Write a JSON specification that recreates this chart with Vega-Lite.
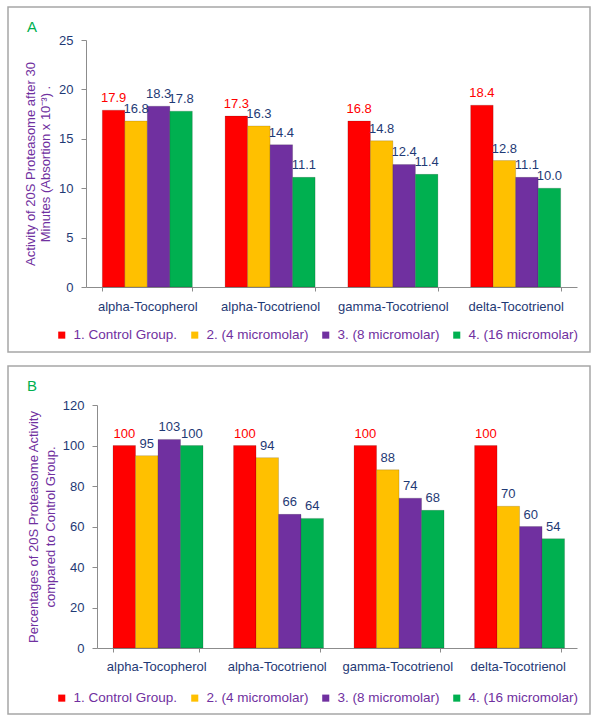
{
  "$schema": "https://vega.github.io/schema/vega-lite/v6.json",
  "padding": {"left": 7, "top": 6, "right": 0, "bottom": 0},
  "datasets": {
    "d": [
      {"compound": "alpha-Tocopherol", "group": "1. Control Group.", "activity": 17.9, "percent": 100},
      {"compound": "alpha-Tocopherol", "group": "2. (4 micromolar)", "activity": 16.8, "percent": 95},
      {"compound": "alpha-Tocopherol", "group": "3. (8 micromolar)", "activity": 18.3, "percent": 103},
      {"compound": "alpha-Tocopherol", "group": "4. (16 micromolar)", "activity": 17.8, "percent": 100},
      {"compound": "alpha-Tocotrienol", "group": "1. Control Group.", "activity": 17.3, "percent": 100},
      {"compound": "alpha-Tocotrienol", "group": "2. (4 micromolar)", "activity": 16.3, "percent": 94},
      {"compound": "alpha-Tocotrienol", "group": "3. (8 micromolar)", "activity": 14.4, "percent": 66},
      {"compound": "alpha-Tocotrienol", "group": "4. (16 micromolar)", "activity": 11.1, "percent": 64},
      {"compound": "gamma-Tocotrienol", "group": "1. Control Group.", "activity": 16.8, "percent": 100},
      {"compound": "gamma-Tocotrienol", "group": "2. (4 micromolar)", "activity": 14.8, "percent": 88},
      {"compound": "gamma-Tocotrienol", "group": "3. (8 micromolar)", "activity": 12.4, "percent": 74},
      {"compound": "gamma-Tocotrienol", "group": "4. (16 micromolar)", "activity": 11.4, "percent": 68},
      {"compound": "delta-Tocotrienol", "group": "1. Control Group.", "activity": 18.4, "percent": 100},
      {"compound": "delta-Tocotrienol", "group": "2. (4 micromolar)", "activity": 12.8, "percent": 70},
      {"compound": "delta-Tocotrienol", "group": "3. (8 micromolar)", "activity": 11.1, "percent": 60},
      {"compound": "delta-Tocotrienol", "group": "4. (16 micromolar)", "activity": 10.0, "percent": 54}
    ]
  },
  "config": {
    "font": "Liberation Sans",
    "view": {"stroke": "#A6A6A6", "strokeWidth": 1.5},
    "axis": {
      "grid": false,
      "domainColor": "#8C8C8C",
      "tickColor": "#8C8C8C",
      "labelColor": "#1F3A75",
      "labelFontSize": 13,
      "labelFont": "Liberation Sans",
      "titleFont": "Liberation Sans",
      "titleColor": "#7030A0",
      "titleFontWeight": "normal",
      "titleFontSize": 13
    },
    "title": {
      "anchor": "start",
      "frame": "group",
      "color": "#00B050",
      "fontSize": 15,
      "fontWeight": "normal",
      "font": "Liberation Sans",
      "offset": 0,
      "baseline": "alphabetic",
      "dx": 19,
      "dy": 32
    },
    "concat": {"spacing": 12}
  },
  "resolve": {"legend": {"color": "independent"}},
  "vconcat": [
    {
      "width": 582,
      "height": 345,
      "title": "A",
      "data": {"name": "d"},
      "encoding": {
        "x": {
          "field": "compound", "type": "nominal", "sort": null,
          "scale": {"range": [78, 569], "paddingInner": 0.267, "paddingOuter": 0.133},
          "axis": {"title": null, "offset": -65, "labelAngle": 0, "tickBand": "extent", "tickSize": 4, "labelPadding": 9}
        },
        "xOffset": {"field": "group", "type": "nominal", "sort": null},
        "y": {
          "field": "activity", "type": "quantitative",
          "scale": {"domain": [0, 25], "range": [280, 33], "nice": false},
          "axis": {
            "title": ["Activity of 20S Proteasome after 30", "Minutes (Absortion x 10⁻³) ."],
            "offset": -78, "values": [0, 5, 10, 15, 20, 25], "tickSize": 5, "labelPadding": 8,
            "titlePadding": 6, "titleLineHeight": 15
          }
        }
      },
      "layer": [
        {
          "mark": {"type": "bar", "stroke": "#000000", "strokeOpacity": 0.15, "strokeWidth": 1},
          "encoding": {
            "color": {
              "field": "group", "type": "nominal", "sort": null,
              "scale": {
                "domain": ["1. Control Group.", "2. (4 micromolar)", "3. (8 micromolar)", "4. (16 micromolar)"],
                "range": ["#FF0000", "#FFC000", "#7030A0", "#00B050"]
              },
              "legend": {
                "title": null, "orient": "none", "legendX": 47, "legendY": 321,
                "direction": "horizontal", "columns": 4, "symbolType": "square", "symbolSize": 50,
                "labelFontSize": 13.5, "labelColor": "#7030A0", "labelFont": "Liberation Sans",
                "columnPadding": 10, "labelOffset": 5, "padding": 0, "symbolStrokeWidth": 0
              }
            }
          }
        },
        {
          "mark": {"type": "text", "baseline": "bottom", "dy": -5, "fontSize": 13},
          "encoding": {
            "text": {"field": "activity", "type": "quantitative", "format": ".1f"},
            "color": {"condition": {"test": "datum.group === '1. Control Group.'", "value": "#FF0000"}, "value": "#1F3A75"}
          }
        }
      ]
    },
    {
      "width": 582,
      "height": 348,
      "title": "B",
      "data": {"name": "d"},
      "encoding": {
        "x": {
          "field": "compound", "type": "nominal", "sort": null,
          "scale": {"range": [89, 569], "paddingInner": 0.283, "paddingOuter": 0.133},
          "axis": {"title": null, "offset": -66, "labelAngle": 0, "tickBand": "extent", "tickSize": 4, "labelPadding": 8}
        },
        "xOffset": {"field": "group", "type": "nominal", "sort": null},
        "y": {
          "field": "percent", "type": "quantitative",
          "scale": {"domain": [0, 120], "range": [282, 39], "nice": false},
          "axis": {
            "title": ["Percentages of 20S Proteasome  Activity", "compared to Control Group."],
            "offset": -89, "values": [0, 20, 40, 60, 80, 100, 120], "tickSize": 5, "labelPadding": 8,
            "titlePadding": 5, "titleLineHeight": 17
          }
        }
      },
      "layer": [
        {
          "mark": {"type": "bar", "stroke": "#000000", "strokeOpacity": 0.15, "strokeWidth": 1},
          "encoding": {
            "color": {
              "field": "group", "type": "nominal", "sort": null,
              "scale": {
                "domain": ["1. Control Group.", "2. (4 micromolar)", "3. (8 micromolar)", "4. (16 micromolar)"],
                "range": ["#FF0000", "#FFC000", "#7030A0", "#00B050"]
              },
              "legend": {
                "title": null, "orient": "none", "legendX": 47, "legendY": 325,
                "direction": "horizontal", "columns": 4, "symbolType": "square", "symbolSize": 50,
                "labelFontSize": 13.5, "labelColor": "#7030A0", "labelFont": "Liberation Sans",
                "columnPadding": 10, "labelOffset": 5, "padding": 0, "symbolStrokeWidth": 0
              }
            }
          }
        },
        {
          "mark": {"type": "text", "baseline": "bottom", "dy": -5, "fontSize": 13},
          "encoding": {
            "text": {"field": "percent", "type": "quantitative", "format": "d"},
            "color": {"condition": {"test": "datum.group === '1. Control Group.'", "value": "#FF0000"}, "value": "#1F3A75"}
          }
        }
      ]
    }
  ]
}
